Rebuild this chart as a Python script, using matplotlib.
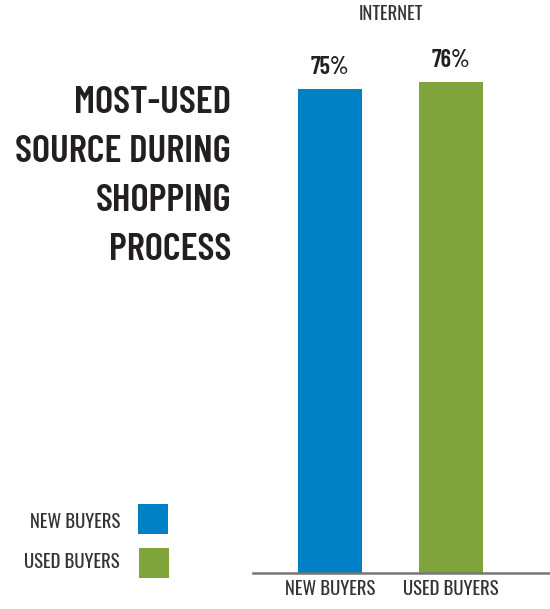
import matplotlib
matplotlib.use("Agg")
import matplotlib.pyplot as plt
from matplotlib.patches import Rectangle
from matplotlib.transforms import blended_transform_factory

categories = ["NEW BUYERS", "USED BUYERS"]
values = [75, 76]
value_labels = ["75%", "76%"]
colors = ["#0081C6", "#80A43C"]
title_lines = ["MOST-USED", "SOURCE DURING", "SHOPPING", "PROCESS"]
group_label = "INTERNET"

plt.rcParams["font.family"] = ["Oswald", "Barlow Condensed", "DejaVu Sans"]
bold_font = ["Barlow Condensed", "Oswald", "DejaVu Sans"]
text_color = "#231F20"
light_text = "#333333"

W, H = 550, 609
fig = plt.figure(figsize=(W / 100, H / 100), dpi=100)
ax = fig.add_axes([253 / W, 36 / H, 297 / W, 573 / H])

x = list(range(len(categories)))
ax.bar(x, values, width=0.53, color=colors)
for xi, v, lab in zip(x, values, value_labels):
    ax.text(xi, v + 1.5, lab, ha="center", va="bottom", fontsize=17.5,
            fontweight=600, family=bold_font, color=text_color)

ax.set_xlim(-0.636, 1.818)
ax.set_ylim(0, 88.7)
ax.set_xticks(x)
ax.set_xticklabels(categories, fontsize=13.5, color=light_text)
ax.tick_params(axis="x", length=0, pad=5)
ax.set_yticks([])
for side in ["top", "right", "left"]:
    ax.spines[side].set_visible(False)
ax.spines["bottom"].set_color("#777777")
ax.spines["bottom"].set_linewidth(1.8)
ax.patch.set_visible(False)

# group label centred between the two bars
trans = blended_transform_factory(ax.transData, ax.transAxes)
ax.text(sum(x) / len(x), 1 - 5 / 573, group_label, transform=trans,
        ha="center", va="top", fontsize=13.5, color=light_text)

for i, line in enumerate(title_lines):
    fig.text(231 / W, 1 - (103 + 49 * i) / H, line, ha="right",
             va="center", fontsize=28, fontweight=600, family=bold_font,
             color=text_color)

# legend: label on the left, colour square on the right
legend_rows = [(522, 138, 504), (562, 139, 548)]
for (ty, sx, sy), lab, c in zip(legend_rows, categories, colors):
    fig.text(120 / W, 1 - ty / H, lab, ha="right", va="center",
             fontsize=13.5, color=light_text)
    fig.patches.append(Rectangle((sx / W, 1 - (sy + 30) / H), 30 / W, 30 / H,
                                 transform=fig.transFigure, facecolor=c,
                                 edgecolor="none"))

fig.savefig("out.png", dpi=100)
